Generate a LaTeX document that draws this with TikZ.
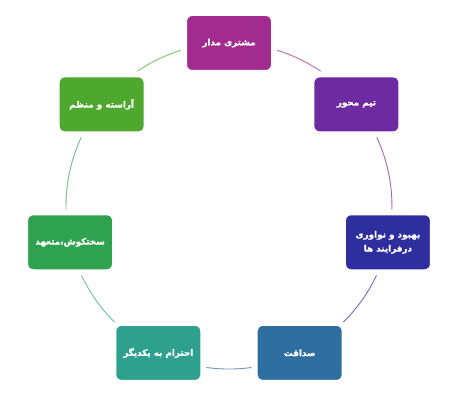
\documentclass[tikz,border=0pt]{standalone}
\usepackage{fontspec}
\usetikzlibrary{backgrounds}
\newfontfamily\arabicfont[Script=Arabic, FakeBold=1.2]{DejaVu Sans Bold}
\TeXXeTstate=1
\definecolor{moshtaricol}{HTML}{A12B8F}
\definecolor{teamcol}{HTML}{6E2AA0}
\definecolor{behboodcol}{HTML}{2E2E9F}
\definecolor{sedaghatcol}{HTML}{2E6EA1}
\definecolor{ehteramcol}{HTML}{2EA18E}
\definecolor{sakhtcol}{HTML}{2EA24E}
\definecolor{arastecol}{HTML}{4DA82D}
\tikzset{
  box/.style={rounded corners=8pt, minimum width=90pt, minimum height=60pt,
    draw=white, line width=6pt,
    text=white, align=center, font=\arabicfont\fontsize{8.8}{14}\selectfont},
  ring/.style={line width=0.9pt}
}
\begin{document}
\begin{tikzpicture}[x=1pt,y=1pt]
        \useasboundingbox (0,0) rectangle (458,400);
        \node[box, fill=moshtaricol] (moshtari) at (229,357) {\beginR مشتری مدار\endR};
        \node[box, fill=teamcol] (team) at (356.4,295.6) {\beginR تیم محور\endR};
        \node[box, fill=behboodcol] (behbood) at (387.9,157.7) {\beginR بهبود و نواوری\endR\\\beginR درفرایند ها\endR};
        \node[box, fill=sedaghatcol] (sedaghat) at (299.7,47.1) {\beginR صداقت\endR};
        \node[box, fill=ehteramcol] (ehteram) at (158.3,47.1) {\beginR احترام به یکدیگر\endR};
        \node[box, fill=sakhtcol] (sakht) at (70.1,157.7) {\beginR سختکوش،متعهد\endR};
        \node[box, fill=arastecol] (araste) at (101.6,295.6) {\beginR آراسته و منظم\endR};
        % ring pieces behind the boxes
        \begin{scope}[on background layer]
        \draw[ring, moshtaricol!70!white] (moshtari.center) arc[start angle=90, delta angle=-51.43, radius=163];
        \draw[ring, teamcol!70!white] (team.center) arc[start angle=38.57, delta angle=-51.43, radius=163];
        \draw[ring, behboodcol!70!white] (behbood.center) arc[start angle=-12.86, delta angle=-51.43, radius=163];
        \draw[ring, sedaghatcol!70!white] (sedaghat.center) arc[start angle=-64.29, delta angle=-51.43, radius=163];
        \draw[ring, ehteramcol!70!white] (ehteram.center) arc[start angle=-115.71, delta angle=-51.43, radius=163];
        \draw[ring, sakhtcol!70!white] (sakht.center) arc[start angle=-167.14, delta angle=-51.43, radius=163];
        \draw[ring, arastecol!70!white] (araste.center) arc[start angle=141.43, delta angle=-51.43, radius=163];
        \end{scope}
    \end{tikzpicture}
\end{document}
